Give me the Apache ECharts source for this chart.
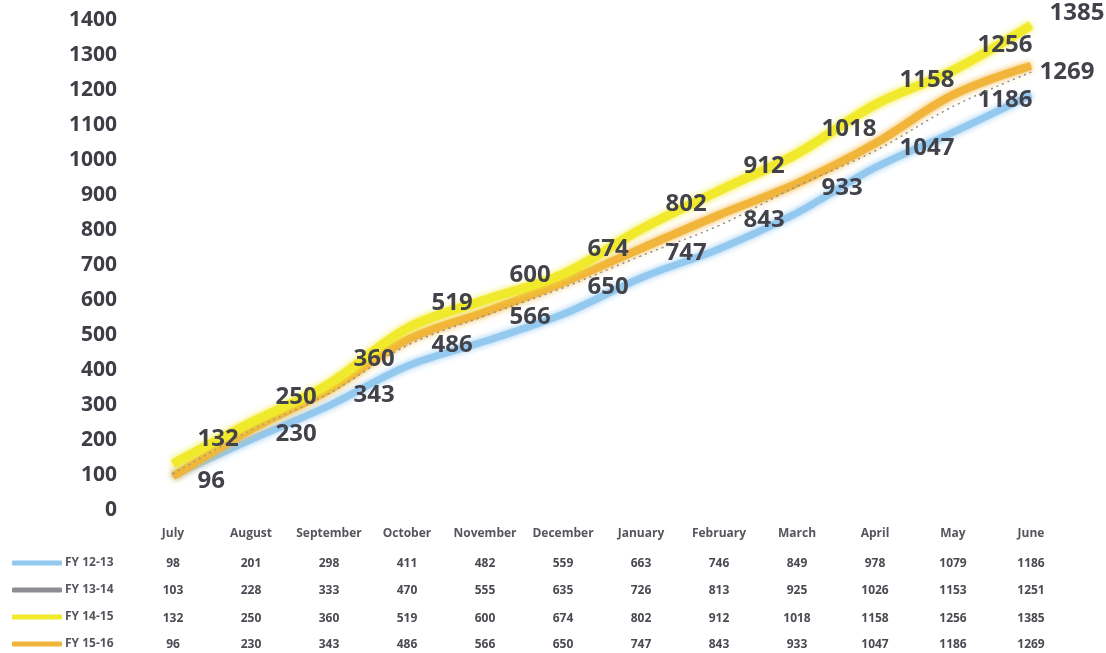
<!DOCTYPE html>
<html>
<head>
<meta charset="utf-8">
<script src="https://cdn.jsdelivr.net/npm/echarts@6/dist/echarts.min.js"></script>
<style>
  html, body { margin: 0; padding: 0; background: #fff; }
  #chart { width: 1106px; height: 653px; }
</style>
</head>
<body>
<div id="chart"></div>
<script>
// months of the financial year
var months = ['July', 'August', 'September', 'October', 'November', 'December',
  'January', 'February', 'March', 'April', 'May', 'June'];

// cumulative counts per year
var fy1213 = [98, 201, 298, 411, 482, 559, 663, 746, 849, 978, 1079, 1186];
var fy1314 = [103, 228, 333, 470, 555, 635, 726, 813, 925, 1026, 1153, 1251];
var fy1415 = [132, 250, 360, 519, 600, 674, 802, 912, 1018, 1158, 1256, 1385];
var fy1516 = [96, 230, 343, 486, 566, 650, 747, 843, 933, 1047, 1186, 1269];

var names = ['FY 12-13', 'FY 13-14', 'FY 14-15', 'FY 15-16'];
var colors = ['#93c8ef', '#8d8d95', '#f1ea2c', '#f0b53a'];

var font = '"Open Sans", "Liberation Sans", sans-serif';

var chart = echarts.init(document.getElementById('chart'));

// one hidden-line x axis per table row, the first one holds the month names
var rowData = [months, fy1213, fy1314, fy1415, fy1516];
var rowOffsets = [0, 30, 57, 85, 111];
var xAxes = rowData.map(function (d, i) {
  return {
    type: 'category',
    gridIndex: 0,
    position: 'bottom',
    offset: rowOffsets[i],
    data: d.map(String),
    boundaryGap: true,
    axisLine: { show: false },
    axisTick: { show: false },
    splitLine: { show: false },
    axisLabel: {
      interval: 0,
      margin: 18,
      fontFamily: font,
      fontSize: 12,
      fontWeight: 'bold',
      color: i === 0 ? '#55555d' : '#4a4a52'
    }
  };
});

// last point label sits a little tighter near the chart's top/right edge
function withLastLabel(data, last) {
  return data.map(function (v, i) {
    return i === data.length - 1 ? { value: v, label: last } : v;
  });
}

function lineSeries(idx, data, width, z, label) {
  var s = {
    name: names[idx],
    type: 'line',
    data: data,
    smooth: 0.35,
    symbol: 'circle',
    symbolSize: 1,
    z: z,
    itemStyle: { color: colors[idx] },
    lineStyle: {
      color: colors[idx],
      width: width,
      shadowBlur: 6,
      shadowColor: colors[idx]
    },
    emphasis: { disabled: true }
  };
  if (idx === 1) {
    s.lineStyle = { color: colors[idx], width: 1.5, type: [2, 4] };
  }
  if (label) {
    s.label = {
      show: true,
      position: 'right',
      distance: 24,
      offset: label,
      fontFamily: font,
      fontSize: 24,
      fontWeight: 'bold',
      color: '#42424a'
    };
  }
  return s;
}

var option = {
  backgroundColor: '#ffffff',
  animation: false,
  grid: { left: 134, right: 36, top: 20, height: 490 },
  legend: {
    orient: 'vertical',
    left: 12,
    top: 556,
    padding: 0,
    itemWidth: 50,
    itemHeight: 5,
    itemGap: 13,
    icon: 'roundRect',
    textStyle: {
      fontFamily: font, fontSize: 12, fontWeight: 'bold', color: '#55555d',
      lineHeight: 14, padding: [0, 0, 0, -2]
    },
    data: names
  },
  xAxis: xAxes,
  yAxis: {
    type: 'value',
    min: 0,
    max: 1400,
    interval: 100,
    axisLine: { show: false },
    axisTick: { show: false },
    splitLine: { show: false },
    axisLabel: {
      margin: 17,
      formatter: function (v) { return String(v); },
      fontFamily: font,
      fontSize: 21,
      fontWeight: 'bold',
      color: '#3e3e46'
    }
  },
  series: [
    lineSeries(0, fy1213, 7, 2, null),
    lineSeries(3, withLastLabel(fy1516, { distance: 8, offset: [0, 6] }), 8, 3, [0, 5]),
    lineSeries(1, fy1314, 2, 4, null),
    lineSeries(2, withLastLabel(fy1415, { distance: 18, offset: [0, -12] }), 9, 5, [0, -25])
  ]
};

chart.setOption(option);
</script>
</body>
</html>
